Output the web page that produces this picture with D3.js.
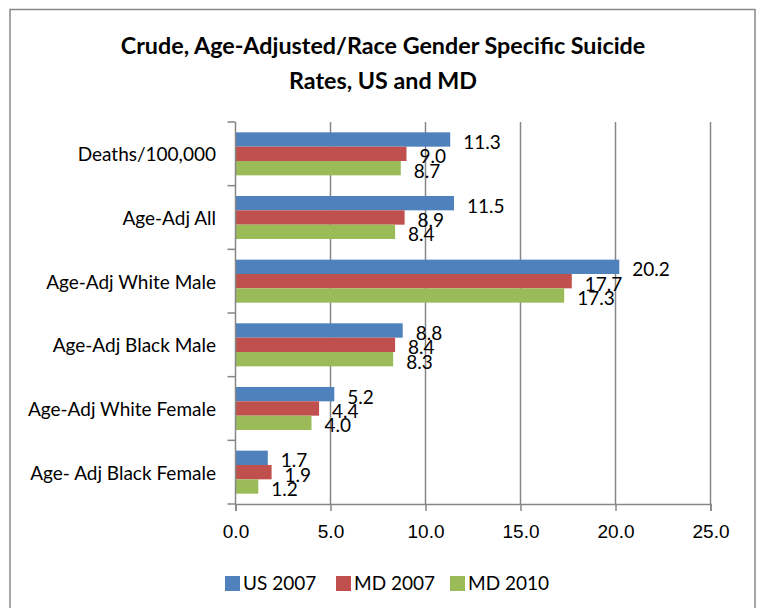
<!DOCTYPE html>
<html>
<head>
<meta charset="utf-8">
<script src="https://cdn.jsdelivr.net/npm/d3@7"></script>
<style>
  body { margin: 0; background: #fff; }
  svg { font-family: Lato, "Open Sans", sans-serif; }
  .grid line { stroke: #868686; stroke-width: 1.5; }
  .axis path, .axis line { stroke: #868686; stroke-width: 1.5; }
  .axis text { fill: #000; font-size: 19px; }
</style>
</head>
<body>
<svg width="761" height="608"></svg>
<script>
const categories = ["Deaths/100,000", "Age-Adj All", "Age-Adj White Male", "Age-Adj Black Male", "Age-Adj White Female", "Age- Adj Black Female"];
const seriesNames = ["US 2007", "MD 2007", "MD 2010"];
const us2007 = [11.3, 11.5, 20.2, 8.8, 5.2, 1.7];
const md2007 = [9.0, 8.9, 17.7, 8.4, 4.4, 1.9];
const md2010 = [8.7, 8.4, 17.3, 8.3, 4.0, 1.2];
const xTicks = [0, 5, 10, 15, 20, 25];
const colors = ["#4F81BD", "#C0504D", "#9BBB59"];

const seriesValues = [us2007, md2007, md2010];

let svg = d3.select("svg");

// chart border
svg.append("rect")
  .attr("x", 10).attr("y", 9.5)
  .attr("width", 745).attr("height", 620)
  .attr("fill", "#fff")
  .attr("stroke", "#898989")
  .attr("stroke-width", 1.5);

// title
svg.append("text")
  .attr("x", 383).attr("y", 0)
  .attr("text-anchor", "middle")
  .attr("font-weight", "bold")
  .attr("font-size", 23.3)
  .selectAll("tspan")
  .data(["Crude, Age-Adjusted/Race Gender Specific Suicide", "Rates, US and MD"])
  .join("tspan")
  .attr("x", 383)
  .attr("y", (d, i) => 53.5 + i * 35)
  .text(d => d);

const plotLeft = 235.5, plotRight = 710.5, plotTop = 122, plotBottom = 504;

let x = d3.scaleLinear().domain([0, 25]).range([plotLeft, plotRight]);
let y = d3.scaleBand().domain(categories).range([plotTop, plotBottom]);
let ySub = d3.scaleBand().domain(seriesNames).range([0, y.bandwidth()]).paddingOuter(0.72);

// gridlines
svg.append("g").attr("class", "grid")
  .selectAll("line")
  .data(xTicks.filter(d => d > 0))
  .join("line")
  .attr("x1", d => x(d)).attr("x2", d => x(d))
  .attr("y1", plotTop).attr("y2", plotBottom);

// bars
const g = svg.append("g");
seriesNames.forEach((name, s) => {
  const vals = seriesValues[s];
  g.selectAll(".bar-" + s)
    .data(categories)
    .join("rect")
    .attr("class", "bar-" + s)
    .attr("x", x(0))
    .attr("y", c => y(c) + ySub(name))
    .attr("width", (c, i) => x(vals[i]) - x(0))
    .attr("height", ySub.bandwidth())
    .attr("fill", colors[s]);

  g.selectAll(".lab-" + s)
    .data(categories)
    .join("text")
    .attr("class", "lab-" + s)
    .attr("x", (c, i) => x(vals[i]) + 13)
    .attr("y", c => y(c) + ySub(name) + ySub.bandwidth() / 2 + 3)
    .attr("dy", "0.35em")
    .attr("font-size", 19)
    .text((c, i) => vals[i].toFixed(1));
});

// x axis
let xAxis = d3.axisBottom(x).tickValues(xTicks).tickFormat(d3.format(".1f")).tickSize(7).tickPadding(14);
svg.append("g").attr("class", "axis")
  .attr("transform", `translate(0,${plotBottom})`)
  .call(xAxis);

// y axis: ticks on category boundaries, labels centred in bands
const yAxisG = svg.append("g").attr("class", "axis");
yAxisG.append("line")
  .attr("x1", plotLeft).attr("x2", plotLeft)
  .attr("y1", plotTop).attr("y2", plotBottom);
yAxisG.selectAll(".ytick")
  .data(d3.range(categories.length + 1))
  .join("line")
  .attr("class", "ytick")
  .attr("x1", plotLeft - 8).attr("x2", plotLeft)
  .attr("y1", i => plotTop + i * y.step())
  .attr("y2", i => plotTop + i * y.step());
yAxisG.selectAll(".ylab")
  .data(categories)
  .join("text")
  .attr("class", "ylab")
  .attr("x", 216)
  .attr("y", c => y(c) + y.bandwidth() / 2 + 1)
  .attr("dy", "0.35em")
  .attr("text-anchor", "end")
  .text(c => c);

// legend
const legendX = [225, 336, 450];
const legend = svg.append("g");
seriesNames.forEach((name, s) => {
  legend.append("rect")
    .attr("x", legendX[s]).attr("y", 576)
    .attr("width", 15).attr("height", 15)
    .attr("fill", colors[s]);
  legend.append("text")
    .attr("x", legendX[s] + 18).attr("y", 583.5)
    .attr("dy", "0.35em")
    .attr("font-size", 19)
    .text(name);
});
</script>
</body>
</html>
